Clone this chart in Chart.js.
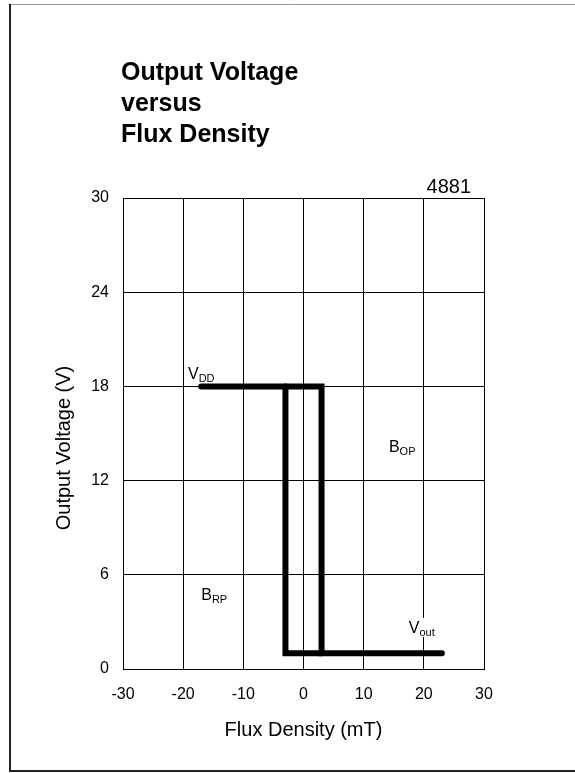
<!DOCTYPE html>
<html>
<head>
<meta charset="utf-8">
<title>Output Voltage versus Flux Density</title>
<script src="https://cdn.jsdelivr.net/npm/chart.js@4/dist/chart.umd.min.js"></script>
<style>
  body { margin: 0; background: #fff; }
  canvas { display: block; }
</style>
</head>
<body>
<canvas id="chart" width="575" height="773"></canvas>
<script>
// values
const xTicks = [-30, -20, -10, 0, 10, 20, 30];
const yTicks = [0, 6, 12, 18, 24, 30];

// output high until B reaches BOP, then drops to the low level
const highPathX = [-17, 3, 3, 23];
const highPathY = [18, 18, 1, 1];
// return branch at BRP
const lowPathX = [-3, -3, 3];
const lowPathY = [18, 1, 1];

const titleLines = ['Output Voltage', 'versus', 'Flux Density'];
const partNo = '4881';

// text labels, placed in data units: [main, subscript, x, y, clearGrid]
const labels = [
    ['V', 'DD', -19.2, 18.45, true],
    ['B', 'RP', -17, 4.4, false],
    ['B', 'OP', 14.2, 13.8, false],
    ['V', 'out', 17.5, 2.3, true]
];

const FONT = '"Liberation Sans", Arial, sans-serif';

function toPoints(xs, ys) {
    return xs.map((x, i) => ({ x: x, y: ys[i] }));
}

const decor = {
    id: 'decor',
    beforeDraw(chart) {
        const c = chart.ctx;
        c.save();
        c.fillStyle = '#fff';
        c.fillRect(0, 0, chart.width, chart.height);
        // page frame (open on the right)
        c.strokeStyle = '#999';
        c.lineWidth = 1;
        c.beginPath();
        c.moveTo(10, 4.5);
        c.lineTo(chart.width, 4.5);
        c.stroke();
        c.strokeStyle = '#222';
        c.lineWidth = 2;
        c.beginPath();
        c.moveTo(10, 4);
        c.lineTo(10, 771);
        c.lineTo(chart.width, 771);
        c.stroke();
        c.restore();
    },
    beforeDatasetsDraw(chart) {
        const c = chart.ctx;
        const xs = chart.scales.x, ys = chart.scales.y;
        c.save();
        labels.forEach(l => {
            if (!l[4]) return;
            const px = xs.getPixelForValue(l[2]);
            const py = ys.getPixelForValue(l[3]);
            c.font = '16px ' + FONT;
            let w = c.measureText(l[0]).width;
            c.font = '11px ' + FONT;
            w += c.measureText(l[1]).width;
            c.fillStyle = '#fff';
            c.fillRect(px - 1, py - 15, w + 2, 19);
        });
        c.restore();
    },
    afterDraw(chart) {
        const c = chart.ctx;
        const xs = chart.scales.x, ys = chart.scales.y;
        const area = chart.chartArea;
        c.save();
        c.fillStyle = '#000';
        c.textBaseline = 'alphabetic';

        // title block
        c.font = 'bold 25px ' + FONT;
        c.textAlign = 'left';
        titleLines.forEach((t, i) => c.fillText(t, 121, 80 + i * 31));

        // part number above the plot
        c.font = '20px ' + FONT;
        c.textAlign = 'right';
        c.fillText(partNo, 471, 193);

        // in-plot labels with subscripts
        c.textAlign = 'left';
        labels.forEach(l => {
            const px = xs.getPixelForValue(l[2]);
            const py = ys.getPixelForValue(l[3]);
            c.font = '16px ' + FONT;
            c.fillText(l[0], px, py);
            const w = c.measureText(l[0]).width;
            c.font = '11px ' + FONT;
            c.fillText(l[1], px + w, py + 3);
        });

        // axis titles
        c.font = '20px ' + FONT;
        c.textAlign = 'center';
        c.fillText('Flux Density (mT)', (area.left + area.right) / 2, 736);
        c.translate(70, 448);
        c.rotate(-Math.PI / 2);
        c.fillText('Output Voltage (V)', 0, 0);
        c.restore();
    }
};

const lineStyle = {
    showLine: true,
    borderColor: '#000',
    backgroundColor: '#000',
    borderWidth: 6,
    borderCapStyle: 'round',
    borderJoinStyle: 'miter',
    pointRadius: 0,
    fill: false
};

new Chart(document.getElementById('chart').getContext('2d'), {
    type: 'scatter',
    data: {
        datasets: [
            Object.assign({ label: 'Vout (rising B)', data: toPoints(highPathX, highPathY) }, lineStyle),
            Object.assign({ label: 'Vout (falling B)', data: toPoints(lowPathX, lowPathY) }, lineStyle)
        ]
    },
    options: {
        responsive: false,
        animation: false,
        layout: { padding: { left: 0, top: 198, right: 91, bottom: 0 } },
        scales: {
            x: {
                type: 'linear',
                min: xTicks[0],
                max: xTicks[xTicks.length - 1],
                afterBuildTicks: s => { s.ticks = xTicks.map(v => ({ value: v })); },
                afterFit: s => { s.height = 104; },
                grid: { color: '#000', lineWidth: 1, drawTicks: false },
                border: { color: '#000', width: 1 },
                ticks: { color: '#000', padding: 16, maxRotation: 0, font: { family: FONT, size: 16 } }
            },
            y: {
                type: 'linear',
                min: yTicks[0],
                max: yTicks[yTicks.length - 1],
                afterBuildTicks: s => { s.ticks = yTicks.map(v => ({ value: v })); },
                afterFit: s => { s.width = 123; },
                grid: { color: '#000', lineWidth: 1, drawTicks: false },
                border: { color: '#000', width: 1 },
                ticks: { color: '#000', padding: 14, font: { family: FONT, size: 16 } }
            }
        },
        plugins: {
            legend: { display: false },
            title: { display: false },
            tooltip: { enabled: false }
        }
    },
    plugins: [decor]
});
</script>
</body>
</html>
